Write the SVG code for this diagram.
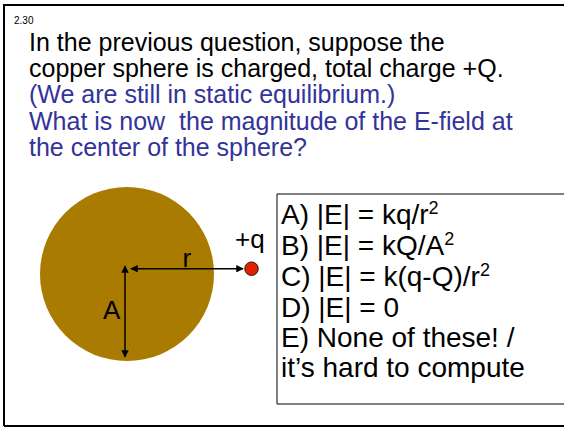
<svg xmlns="http://www.w3.org/2000/svg" width="564" height="429" viewBox="0 0 564 429">
<style>
text{font-family:"Liberation Sans",Arial,sans-serif;}
.q{font-size:25px;}
.blk{fill:#000;}
.blu{fill:#333399;}
.ans{font-size:28px;fill:#000;}
.lbl{font-size:26px;fill:#000;}
.conn{stroke:#000;stroke-width:1.5;fill:none;marker-start:url(#ah);marker-end:url(#ah);}
</style>
<defs>
<marker id="ah" viewBox="0 0 10 10" refX="9" refY="5" markerWidth="5" markerHeight="5" orient="auto-start-reverse" markerUnits="strokeWidth">
<path d="M0,0 L10,5 L0,10 z" fill="#000"/>
</marker>
</defs>
<rect x="0" y="0" width="564" height="429" fill="#fff"/>
<g id="frame">
<path d="M4,426 L4,5 L566,5" fill="none" stroke="#000" stroke-width="2"/>
<path d="M4,426 L566,426" fill="none" stroke="#000" stroke-width="2"/>
</g>
<g id="title">
<text x="14" y="24" style="font-size:10px" class="blk">2.30</text>
<text x="29" y="50.5" class="q blk">In the previous question, suppose the</text>
<text x="29" y="76.5" class="q blk">copper sphere is charged, total charge +Q.</text>
<text x="29" y="103" class="q blu">(We are still in static equilibrium.)</text>
<text x="29" y="129.5" class="q blu" xml:space="preserve">What is now  the magnitude of the E-field at</text>
<text x="29" y="156" class="q blu">the center of the sphere?</text>
</g>
<g id="sphere">
<circle cx="127" cy="274" r="87" fill="#A97B00"/>
</g>
<g id="charge">
<circle cx="251.5" cy="268.7" r="6.8" fill="#DD2200" stroke="#000" stroke-width="0.8"/>
<text x="235" y="248" class="lbl">+q</text>
</g>
<g id="connectors">
<line x1="125" y1="266" x2="125" y2="357" class="conn"/>
<line x1="131" y1="268.7" x2="243" y2="268.7" class="conn"/>
</g>
<g id="labels">
<text x="182.5" y="267" class="lbl">r</text>
<text x="103" y="319" class="lbl">A</text>
</g>
<g id="answers">
<path d="M570,194 L277,194 L277,404 L570,404" fill="#fff" stroke="#000" stroke-width="1"/>
<text x="281" y="224" class="ans">A) |E| = kq/r<tspan dy="-10" font-size="18">2</tspan></text>
<text x="281" y="255" class="ans">B) |E| = kQ/A<tspan dy="-10" font-size="18">2</tspan></text>
<text x="281" y="286" class="ans">C) |E| = k(q-Q)/r<tspan dy="-10" font-size="18">2</tspan></text>
<text x="281" y="316.5" class="ans">D) |E| = 0</text>
<text x="281" y="346.5" class="ans">E) None of these! /</text>
<text x="281" y="377" class="ans">it’s hard to compute</text>
</g>
</svg>
